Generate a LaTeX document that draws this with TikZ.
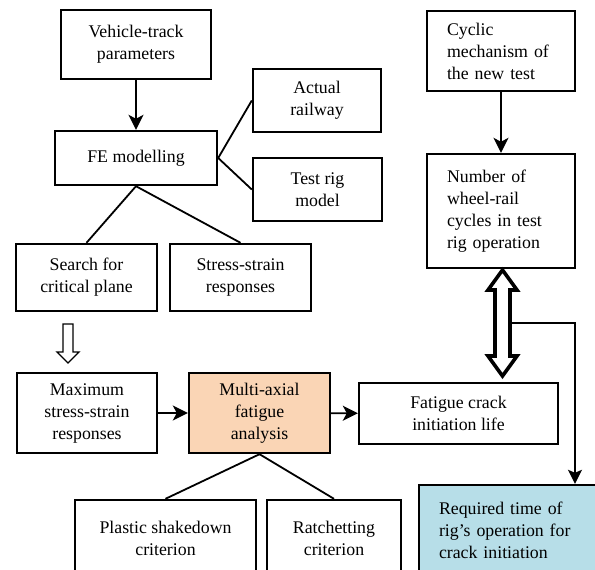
\documentclass[tikz,border=0pt]{standalone}
\usepackage{fontspec}
\setmainfont{Liberation Serif}
\usetikzlibrary{arrows.meta}
\definecolor{peach}{RGB}{250,213,181}
\definecolor{lblue}{RGB}{183,222,232}
\tikzset{
  box/.style={draw=black, line width=2.4pt, fill=white, inner sep=0pt, align=center,
    font=\fontsize{17.8}{22}\selectfont},
  lbox/.style={box, align=left},
  conn/.style={line width=1.8pt},
  arr/.style={line width=1.8pt, -{Stealth[length=15pt,width=15pt,inset=4pt]}},
  thinarr/.style={line width=1.3pt, -{Stealth[length=14pt,width=14pt,inset=3pt]}},
}
\begin{document}
\begin{tikzpicture}[x=1pt,y=-1pt]
\useasboundingbox (0,0) rectangle (595,570);
\clip (0,0) rectangle (595,570);
\fill[white] (0,0) rectangle (595,570);

\node[box, minimum width=150pt, minimum height=69pt] (veh) at (136,44.5) {Vehicle-track\\parameters};
\node[box, minimum width=162pt, minimum height=54pt] (fe) at (136,158) {FE modelling};
\node[box, minimum width=128pt, minimum height=63pt] (act) at (317,100.5) {Actual\\railway};
\node[box, minimum width=129pt, minimum height=63pt] (test) at (317.5,189.5) {Test rig\\model};
\node[lbox, minimum width=148pt, minimum height=80pt, text width=108pt, inner xsep=20pt] (cyc) at (501,51) {Cyclic\\mechanism of\\the new test};
\node[lbox, minimum width=148pt, minimum height=114pt, text width=108pt, inner xsep=20pt] (num) at (501,211) {Number of\\wheel-rail\\cycles in test\\rig operation};
\node[box, minimum width=141pt, minimum height=67pt] (search) at (86.5,277.5) {Search for\\critical plane};
\node[box, minimum width=141pt, minimum height=67pt] (stress) at (240.5,277.5) {Stress-strain\\responses};
\node[box, minimum width=140pt, minimum height=80pt] (max) at (87,413) {Maximum\\stress-strain\\responses};
\node[box, fill=peach, minimum width=141pt, minimum height=80pt] (multi) at (259.5,413) {Multi-axial\\fatigue\\analysis};
\node[box, minimum width=199pt, minimum height=61pt] (fat) at (458.5,413.5) {Fatigue crack\\initiation life};
\node[box, minimum width=181pt, minimum height=77pt] (plas) at (165.5,538.5) {Plastic shakedown\\criterion};
\node[box, minimum width=134pt, minimum height=77pt] (ratch) at (334,538.5) {Ratchetting\\criterion};
\node[lbox, fill=lblue, minimum width=201pt, minimum height=90pt, text width=161pt, inner xsep=20pt] (req) at (519.5,530) {Required time of\\rig’s operation for\\crack initiation};

% connectors
\draw[arr] (veh) -- (fe);
\draw[conn] (fe.east) -- (act.west);
\draw[conn] (fe.east) -- (test.west);
\draw[conn] (fe.south) -- (search.north);
\draw[conn] (fe.south) -- (stress.north);
\draw[arr] (cyc) -- (num);
\draw[arr] (max) -- (multi);
\draw[arr] (multi) -- (fat);
\draw[conn] (multi.south) -- (plas.north);
\draw[conn] (multi.south) -- (ratch.north);

% hollow single arrow
\draw[line width=1.3pt, fill=white] (63,324) -- (73,324) -- (73,352) -- (79,352) -- (68,363) -- (57,352) -- (63,352) -- cycle;

% hollow double arrow
\draw[line width=3.6pt, fill=white, line join=miter] (502.5,270) -- (517,290) -- (510,290) -- (510,356) -- (517,356) -- (502.5,376) -- (488,356) -- (495,356) -- (495,290) -- (488,290) -- cycle;

% branch to required time
\coordinate (br) at (511.8,323);
\coordinate (bc) at (575,323);
\draw[thinarr] (br) -- (bc) -- (bc |- req.north);
\end{tikzpicture}
\end{document}
